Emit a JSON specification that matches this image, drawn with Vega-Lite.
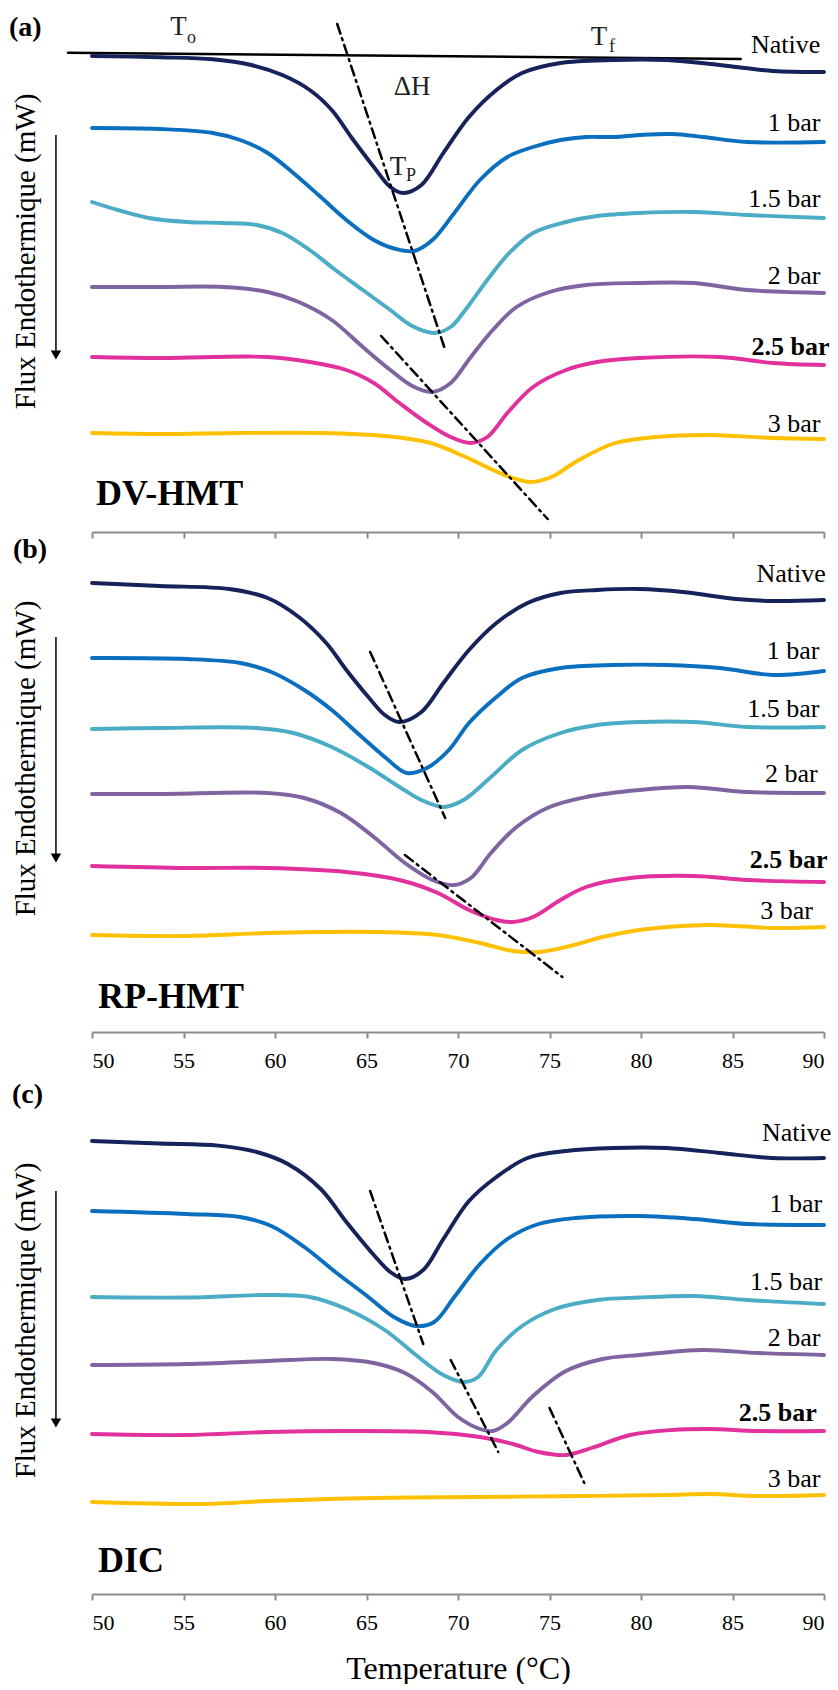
{
"$schema": "https://vega.github.io/schema/vega-lite/v6.json",
"padding": {"left": 8, "top": 0, "right": 0, "bottom": 0},
"background": "white",
"bounds": "flush",
"spacing": 10,
"config": {
 "view": {"stroke": null},
 "font": "Liberation Serif, Times New Roman, serif",
 "axis": {"grid": false, "domainColor": "#8c8c8c", "domainWidth": 2, "tickColor": "#8c8c8c", "tickWidth": 2, "tickSize": 6, "labelFont": "Liberation Serif, Times New Roman, serif", "labelFontSize": 22, "labelColor": "#000", "labelPadding": 12, "titleFont": "Liberation Serif, Times New Roman, serif", "titleFontWeight": "normal", "titleColor": "#000"},
 "line": {"strokeWidth": 3.9, "interpolate": "catmull-rom", "strokeCap": "round"},
 "text": {"font": "Liberation Serif, Times New Roman, serif", "color": "#000"}
},
"datasets": {
 "curves": [
  {"p":"a","s":"Native","t":50,"f":-0.56},{"p":"a","s":"Native","t":53.7,"f":-0.573},{"p":"a","s":"Native","t":56.6,"f":-0.593},{"p":"a","s":"Native","t":58.7,"f":-0.65},{"p":"a","s":"Native","t":60.4,"f":-0.75},{"p":"a","s":"Native","t":61.9,"f":-0.9},{"p":"a","s":"Native","t":63.1,"f":-1.1},{"p":"a","s":"Native","t":64.2,"f":-1.38},{"p":"a","s":"Native","t":65.4,"f":-1.67},{"p":"a","s":"Native","t":66.3,"f":-1.87},{"p":"a","s":"Native","t":67.0,"f":-1.93},{"p":"a","s":"Native","t":68.0,"f":-1.85},{"p":"a","s":"Native","t":69.2,"f":-1.53},{"p":"a","s":"Native","t":70.6,"f":-1.17},{"p":"a","s":"Native","t":72.1,"f":-0.9},{"p":"a","s":"Native","t":73.5,"f":-0.73},{"p":"a","s":"Native","t":75.6,"f":-0.63},{"p":"a","s":"Native","t":78.5,"f":-0.6},{"p":"a","s":"Native","t":81.4,"f":-0.6},{"p":"a","s":"Native","t":84.3,"f":-0.65},{"p":"a","s":"Native","t":87.2,"f":-0.71},{"p":"a","s":"Native","t":90,"f":-0.72},
  {"p":"a","s":"1 bar","t":50,"f":-1.28},{"p":"a","s":"1 bar","t":53.7,"f":-1.29},{"p":"a","s":"1 bar","t":56.6,"f":-1.33},{"p":"a","s":"1 bar","t":58.1,"f":-1.4},{"p":"a","s":"1 bar","t":59.6,"f":-1.53},{"p":"a","s":"1 bar","t":61.0,"f":-1.73},{"p":"a","s":"1 bar","t":62.5,"f":-1.97},{"p":"a","s":"1 bar","t":63.9,"f":-2.2},{"p":"a","s":"1 bar","t":65.4,"f":-2.4},{"p":"a","s":"1 bar","t":66.6,"f":-2.49},{"p":"a","s":"1 bar","t":67.6,"f":-2.51},{"p":"a","s":"1 bar","t":68.6,"f":-2.4},{"p":"a","s":"1 bar","t":69.8,"f":-2.13},{"p":"a","s":"1 bar","t":71.2,"f":-1.8},{"p":"a","s":"1 bar","t":72.7,"f":-1.57},{"p":"a","s":"1 bar","t":74.1,"f":-1.47},{"p":"a","s":"1 bar","t":75.6,"f":-1.4},{"p":"a","s":"1 bar","t":77.0,"f":-1.37},{"p":"a","s":"1 bar","t":78.5,"f":-1.37},{"p":"a","s":"1 bar","t":79.9,"f":-1.35},{"p":"a","s":"1 bar","t":81.7,"f":-1.34},{"p":"a","s":"1 bar","t":83.4,"f":-1.37},{"p":"a","s":"1 bar","t":85.8,"f":-1.42},{"p":"a","s":"1 bar","t":90,"f":-1.42},
  {"p":"a","s":"1.5 bar","t":50,"f":-2.02},{"p":"a","s":"1.5 bar","t":51.4,"f":-2.1},{"p":"a","s":"1.5 bar","t":53.1,"f":-2.18},{"p":"a","s":"1.5 bar","t":55.2,"f":-2.22},{"p":"a","s":"1.5 bar","t":57.2,"f":-2.23},{"p":"a","s":"1.5 bar","t":59.0,"f":-2.25},{"p":"a","s":"1.5 bar","t":60.4,"f":-2.33},{"p":"a","s":"1.5 bar","t":61.9,"f":-2.5},{"p":"a","s":"1.5 bar","t":63.3,"f":-2.7},{"p":"a","s":"1.5 bar","t":64.8,"f":-2.9},{"p":"a","s":"1.5 bar","t":66.3,"f":-3.1},{"p":"a","s":"1.5 bar","t":67.5,"f":-3.26},{"p":"a","s":"1.5 bar","t":68.7,"f":-3.33},{"p":"a","s":"1.5 bar","t":69.6,"f":-3.27},{"p":"a","s":"1.5 bar","t":70.4,"f":-3.1},{"p":"a","s":"1.5 bar","t":71.6,"f":-2.8},{"p":"a","s":"1.5 bar","t":72.8,"f":-2.53},{"p":"a","s":"1.5 bar","t":74.1,"f":-2.33},{"p":"a","s":"1.5 bar","t":75.9,"f":-2.22},{"p":"a","s":"1.5 bar","t":77.6,"f":-2.16},{"p":"a","s":"1.5 bar","t":79.9,"f":-2.13},{"p":"a","s":"1.5 bar","t":82.9,"f":-2.12},{"p":"a","s":"1.5 bar","t":85.8,"f":-2.15},{"p":"a","s":"1.5 bar","t":90,"f":-2.18},
  {"p":"a","s":"2 bar","t":50,"f":-2.87},{"p":"a","s":"2 bar","t":53.7,"f":-2.87},{"p":"a","s":"2 bar","t":57.2,"f":-2.87},{"p":"a","s":"2 bar","t":59.6,"f":-2.92},{"p":"a","s":"2 bar","t":61.3,"f":-3.02},{"p":"a","s":"2 bar","t":63.1,"f":-3.2},{"p":"a","s":"2 bar","t":64.8,"f":-3.47},{"p":"a","s":"2 bar","t":66.3,"f":-3.7},{"p":"a","s":"2 bar","t":67.5,"f":-3.86},{"p":"a","s":"2 bar","t":68.6,"f":-3.92},{"p":"a","s":"2 bar","t":69.6,"f":-3.83},{"p":"a","s":"2 bar","t":70.7,"f":-3.57},{"p":"a","s":"2 bar","t":71.9,"f":-3.3},{"p":"a","s":"2 bar","t":73.2,"f":-3.07},{"p":"a","s":"2 bar","t":75.0,"f":-2.92},{"p":"a","s":"2 bar","t":77.0,"f":-2.85},{"p":"a","s":"2 bar","t":79.9,"f":-2.83},{"p":"a","s":"2 bar","t":82.9,"f":-2.83},{"p":"a","s":"2 bar","t":85.8,"f":-2.9},{"p":"a","s":"2 bar","t":90,"f":-2.93},
  {"p":"a","s":"2.5 bar","t":50,"f":-3.57},{"p":"a","s":"2.5 bar","t":53.7,"f":-3.58},{"p":"a","s":"2.5 bar","t":56.6,"f":-3.57},{"p":"a","s":"2.5 bar","t":59.6,"f":-3.57},{"p":"a","s":"2.5 bar","t":61.9,"f":-3.62},{"p":"a","s":"2.5 bar","t":63.9,"f":-3.7},{"p":"a","s":"2.5 bar","t":65.4,"f":-3.83},{"p":"a","s":"2.5 bar","t":66.8,"f":-4.03},{"p":"a","s":"2.5 bar","t":68.3,"f":-4.23},{"p":"a","s":"2.5 bar","t":69.6,"f":-4.37},{"p":"a","s":"2.5 bar","t":70.7,"f":-4.43},{"p":"a","s":"2.5 bar","t":71.6,"f":-4.37},{"p":"a","s":"2.5 bar","t":72.7,"f":-4.13},{"p":"a","s":"2.5 bar","t":74.1,"f":-3.87},{"p":"a","s":"2.5 bar","t":75.9,"f":-3.7},{"p":"a","s":"2.5 bar","t":77.6,"f":-3.62},{"p":"a","s":"2.5 bar","t":79.9,"f":-3.58},{"p":"a","s":"2.5 bar","t":84.3,"f":-3.57},{"p":"a","s":"2.5 bar","t":87.2,"f":-3.63},{"p":"a","s":"2.5 bar","t":90,"f":-3.65},
  {"p":"a","s":"3 bar","t":50,"f":-4.33},{"p":"a","s":"3 bar","t":53.7,"f":-4.34},{"p":"a","s":"3 bar","t":58.1,"f":-4.33},{"p":"a","s":"3 bar","t":62.5,"f":-4.33},{"p":"a","s":"3 bar","t":66.0,"f":-4.36},{"p":"a","s":"3 bar","t":68.5,"f":-4.43},{"p":"a","s":"3 bar","t":70.3,"f":-4.56},{"p":"a","s":"3 bar","t":71.8,"f":-4.69},{"p":"a","s":"3 bar","t":73.0,"f":-4.78},{"p":"a","s":"3 bar","t":74.0,"f":-4.82},{"p":"a","s":"3 bar","t":75.1,"f":-4.77},{"p":"a","s":"3 bar","t":76.6,"f":-4.6},{"p":"a","s":"3 bar","t":78.6,"f":-4.43},{"p":"a","s":"3 bar","t":80.8,"f":-4.37},{"p":"a","s":"3 bar","t":83.7,"f":-4.35},{"p":"a","s":"3 bar","t":87.2,"f":-4.38},{"p":"a","s":"3 bar","t":90,"f":-4.39},

  {"p":"b","s":"Native","t":50,"f":-0.43},{"p":"b","s":"Native","t":53.7,"f":-0.46},{"p":"b","s":"Native","t":57.5,"f":-0.49},{"p":"b","s":"Native","t":59.6,"f":-0.58},{"p":"b","s":"Native","t":61.3,"f":-0.77},{"p":"b","s":"Native","t":62.8,"f":-1.03},{"p":"b","s":"Native","t":63.9,"f":-1.3},{"p":"b","s":"Native","t":65.1,"f":-1.57},{"p":"b","s":"Native","t":66.0,"f":-1.75},{"p":"b","s":"Native","t":66.8,"f":-1.82},{"p":"b","s":"Native","t":68.0,"f":-1.72},{"p":"b","s":"Native","t":69.2,"f":-1.43},{"p":"b","s":"Native","t":70.6,"f":-1.1},{"p":"b","s":"Native","t":72.1,"f":-0.83},{"p":"b","s":"Native","t":73.8,"f":-0.63},{"p":"b","s":"Native","t":75.6,"f":-0.53},{"p":"b","s":"Native","t":77.6,"f":-0.5},{"p":"b","s":"Native","t":79.9,"f":-0.49},{"p":"b","s":"Native","t":82.3,"f":-0.52},{"p":"b","s":"Native","t":85.2,"f":-0.59},{"p":"b","s":"Native","t":87.2,"f":-0.61},{"p":"b","s":"Native","t":90,"f":-0.6},
  {"p":"b","s":"1 bar","t":50,"f":-1.18},{"p":"b","s":"1 bar","t":55.2,"f":-1.19},{"p":"b","s":"1 bar","t":58.1,"f":-1.23},{"p":"b","s":"1 bar","t":59.8,"f":-1.32},{"p":"b","s":"1 bar","t":61.6,"f":-1.5},{"p":"b","s":"1 bar","t":63.1,"f":-1.7},{"p":"b","s":"1 bar","t":64.5,"f":-1.93},{"p":"b","s":"1 bar","t":66.0,"f":-2.17},{"p":"b","s":"1 bar","t":67.2,"f":-2.33},{"p":"b","s":"1 bar","t":68.3,"f":-2.28},{"p":"b","s":"1 bar","t":69.5,"f":-2.1},{"p":"b","s":"1 bar","t":70.6,"f":-1.83},{"p":"b","s":"1 bar","t":72.1,"f":-1.57},{"p":"b","s":"1 bar","t":73.5,"f":-1.38},{"p":"b","s":"1 bar","t":75.6,"f":-1.28},{"p":"b","s":"1 bar","t":78.5,"f":-1.25},{"p":"b","s":"1 bar","t":81.4,"f":-1.25},{"p":"b","s":"1 bar","t":84.3,"f":-1.28},{"p":"b","s":"1 bar","t":87.2,"f":-1.35},{"p":"b","s":"1 bar","t":90,"f":-1.31},
  {"p":"b","s":"1.5 bar","t":50,"f":-1.89},{"p":"b","s":"1.5 bar","t":53.7,"f":-1.88},{"p":"b","s":"1.5 bar","t":59.0,"f":-1.88},{"p":"b","s":"1.5 bar","t":61.0,"f":-1.93},{"p":"b","s":"1.5 bar","t":63.1,"f":-2.07},{"p":"b","s":"1.5 bar","t":65.1,"f":-2.27},{"p":"b","s":"1.5 bar","t":66.8,"f":-2.47},{"p":"b","s":"1.5 bar","t":68.0,"f":-2.6},{"p":"b","s":"1.5 bar","t":69.2,"f":-2.67},{"p":"b","s":"1.5 bar","t":70.3,"f":-2.6},{"p":"b","s":"1.5 bar","t":71.8,"f":-2.37},{"p":"b","s":"1.5 bar","t":73.5,"f":-2.1},{"p":"b","s":"1.5 bar","t":75.6,"f":-1.93},{"p":"b","s":"1.5 bar","t":77.6,"f":-1.85},{"p":"b","s":"1.5 bar","t":79.9,"f":-1.82},{"p":"b","s":"1.5 bar","t":82.9,"f":-1.82},{"p":"b","s":"1.5 bar","t":85.8,"f":-1.87},{"p":"b","s":"1.5 bar","t":90,"f":-1.87},
  {"p":"b","s":"2 bar","t":50,"f":-2.54},{"p":"b","s":"2 bar","t":53.7,"f":-2.54},{"p":"b","s":"2 bar","t":59.6,"f":-2.53},{"p":"b","s":"2 bar","t":61.6,"f":-2.58},{"p":"b","s":"2 bar","t":63.6,"f":-2.73},{"p":"b","s":"2 bar","t":65.4,"f":-2.97},{"p":"b","s":"2 bar","t":67.1,"f":-3.23},{"p":"b","s":"2 bar","t":68.6,"f":-3.4},{"p":"b","s":"2 bar","t":69.8,"f":-3.45},{"p":"b","s":"2 bar","t":70.7,"f":-3.38},{"p":"b","s":"2 bar","t":71.8,"f":-3.13},{"p":"b","s":"2 bar","t":73.2,"f":-2.87},{"p":"b","s":"2 bar","t":75.0,"f":-2.67},{"p":"b","s":"2 bar","t":77.0,"f":-2.57},{"p":"b","s":"2 bar","t":79.9,"f":-2.5},{"p":"b","s":"2 bar","t":82.6,"f":-2.47},{"p":"b","s":"2 bar","t":85.8,"f":-2.52},{"p":"b","s":"2 bar","t":90,"f":-2.53},
  {"p":"b","s":"2.5 bar","t":50,"f":-3.26},{"p":"b","s":"2.5 bar","t":55.2,"f":-3.28},{"p":"b","s":"2.5 bar","t":59.6,"f":-3.28},{"p":"b","s":"2.5 bar","t":63.9,"f":-3.32},{"p":"b","s":"2.5 bar","t":66.8,"f":-3.4},{"p":"b","s":"2.5 bar","t":68.9,"f":-3.53},{"p":"b","s":"2.5 bar","t":70.6,"f":-3.7},{"p":"b","s":"2.5 bar","t":72.1,"f":-3.8},{"p":"b","s":"2.5 bar","t":73.0,"f":-3.82},{"p":"b","s":"2.5 bar","t":74.1,"f":-3.77},{"p":"b","s":"2.5 bar","t":75.6,"f":-3.6},{"p":"b","s":"2.5 bar","t":77.0,"f":-3.47},{"p":"b","s":"2.5 bar","t":79.4,"f":-3.38},{"p":"b","s":"2.5 bar","t":82.9,"f":-3.36},{"p":"b","s":"2.5 bar","t":85.8,"f":-3.4},{"p":"b","s":"2.5 bar","t":90,"f":-3.42},
  {"p":"b","s":"3 bar","t":50,"f":-3.95},{"p":"b","s":"3 bar","t":55.2,"f":-3.96},{"p":"b","s":"3 bar","t":59.6,"f":-3.93},{"p":"b","s":"3 bar","t":65.4,"f":-3.92},{"p":"b","s":"3 bar","t":68.9,"f":-3.95},{"p":"b","s":"3 bar","t":71.2,"f":-4.03},{"p":"b","s":"3 bar","t":73.0,"f":-4.11},{"p":"b","s":"3 bar","t":74.4,"f":-4.12},{"p":"b","s":"3 bar","t":75.9,"f":-4.07},{"p":"b","s":"3 bar","t":77.9,"f":-3.97},{"p":"b","s":"3 bar","t":79.9,"f":-3.9},{"p":"b","s":"3 bar","t":83.7,"f":-3.85},{"p":"b","s":"3 bar","t":87.2,"f":-3.88},{"p":"b","s":"3 bar","t":90,"f":-3.87},

  {"p":"c","s":"Native","t":50,"f":-0.96},{"p":"c","s":"Native","t":53.7,"f":-0.985},{"p":"c","s":"Native","t":56.9,"f":-1.006},{"p":"c","s":"Native","t":59.0,"f":-1.07},{"p":"c","s":"Native","t":60.7,"f":-1.19},{"p":"c","s":"Native","t":62.5,"f":-1.44},{"p":"c","s":"Native","t":63.9,"f":-1.77},{"p":"c","s":"Native","t":65.4,"f":-2.1},{"p":"c","s":"Native","t":66.3,"f":-2.27},{"p":"c","s":"Native","t":67.1,"f":-2.34},{"p":"c","s":"Native","t":68.1,"f":-2.25},{"p":"c","s":"Native","t":69.2,"f":-1.94},{"p":"c","s":"Native","t":70.6,"f":-1.56},{"p":"c","s":"Native","t":72.1,"f":-1.32},{"p":"c","s":"Native","t":73.8,"f":-1.13},{"p":"c","s":"Native","t":75.9,"f":-1.06},{"p":"c","s":"Native","t":78.5,"f":-1.03},{"p":"c","s":"Native","t":81.4,"f":-1.03},{"p":"c","s":"Native","t":84.3,"f":-1.08},{"p":"c","s":"Native","t":87.2,"f":-1.13},{"p":"c","s":"Native","t":90,"f":-1.13},
  {"p":"c","s":"1 bar","t":50,"f":-1.66},{"p":"c","s":"1 bar","t":55.2,"f":-1.69},{"p":"c","s":"1 bar","t":58.1,"f":-1.72},{"p":"c","s":"1 bar","t":59.8,"f":-1.81},{"p":"c","s":"1 bar","t":61.6,"f":-2.02},{"p":"c","s":"1 bar","t":63.3,"f":-2.27},{"p":"c","s":"1 bar","t":65.1,"f":-2.52},{"p":"c","s":"1 bar","t":66.5,"f":-2.72},{"p":"c","s":"1 bar","t":67.7,"f":-2.81},{"p":"c","s":"1 bar","t":68.7,"f":-2.77},{"p":"c","s":"1 bar","t":69.8,"f":-2.52},{"p":"c","s":"1 bar","t":71.2,"f":-2.19},{"p":"c","s":"1 bar","t":72.7,"f":-1.94},{"p":"c","s":"1 bar","t":74.4,"f":-1.79},{"p":"c","s":"1 bar","t":76.4,"f":-1.73},{"p":"c","s":"1 bar","t":79.9,"f":-1.71},{"p":"c","s":"1 bar","t":82.9,"f":-1.74},{"p":"c","s":"1 bar","t":85.8,"f":-1.79},{"p":"c","s":"1 bar","t":90,"f":-1.8},
  {"p":"c","s":"1.5 bar","t":50,"f":-2.52},{"p":"c","s":"1.5 bar","t":55.2,"f":-2.525},{"p":"c","s":"1.5 bar","t":59.6,"f":-2.5},{"p":"c","s":"1.5 bar","t":61.9,"f":-2.52},{"p":"c","s":"1.5 bar","t":63.9,"f":-2.64},{"p":"c","s":"1.5 bar","t":66.0,"f":-2.85},{"p":"c","s":"1.5 bar","t":67.7,"f":-3.1},{"p":"c","s":"1.5 bar","t":69.2,"f":-3.3},{"p":"c","s":"1.5 bar","t":70.3,"f":-3.37},{"p":"c","s":"1.5 bar","t":71.1,"f":-3.32},{"p":"c","s":"1.5 bar","t":72.1,"f":-3.05},{"p":"c","s":"1.5 bar","t":73.5,"f":-2.81},{"p":"c","s":"1.5 bar","t":75.3,"f":-2.64},{"p":"c","s":"1.5 bar","t":77.6,"f":-2.55},{"p":"c","s":"1.5 bar","t":79.9,"f":-2.525},{"p":"c","s":"1.5 bar","t":82.9,"f":-2.51},{"p":"c","s":"1.5 bar","t":85.8,"f":-2.55},{"p":"c","s":"1.5 bar","t":90,"f":-2.59},
  {"p":"c","s":"2 bar","t":50,"f":-3.2},{"p":"c","s":"2 bar","t":55.2,"f":-3.19},{"p":"c","s":"2 bar","t":59.6,"f":-3.16},{"p":"c","s":"2 bar","t":63.1,"f":-3.14},{"p":"c","s":"2 bar","t":65.4,"f":-3.18},{"p":"c","s":"2 bar","t":67.1,"f":-3.28},{"p":"c","s":"2 bar","t":68.6,"f":-3.47},{"p":"c","s":"2 bar","t":70.0,"f":-3.72},{"p":"c","s":"2 bar","t":71.2,"f":-3.84},{"p":"c","s":"2 bar","t":71.9,"f":-3.86},{"p":"c","s":"2 bar","t":72.7,"f":-3.78},{"p":"c","s":"2 bar","t":74.1,"f":-3.51},{"p":"c","s":"2 bar","t":75.9,"f":-3.26},{"p":"c","s":"2 bar","t":77.9,"f":-3.14},{"p":"c","s":"2 bar","t":79.9,"f":-3.1},{"p":"c","s":"2 bar","t":83.4,"f":-3.05},{"p":"c","s":"2 bar","t":86.4,"f":-3.08},{"p":"c","s":"2 bar","t":90,"f":-3.1},
  {"p":"c","s":"2.5 bar","t":50,"f":-3.89},{"p":"c","s":"2.5 bar","t":55.2,"f":-3.9},{"p":"c","s":"2.5 bar","t":59.6,"f":-3.87},{"p":"c","s":"2.5 bar","t":63.9,"f":-3.86},{"p":"c","s":"2.5 bar","t":68.3,"f":-3.87},{"p":"c","s":"2.5 bar","t":71.2,"f":-3.92},{"p":"c","s":"2.5 bar","t":73.0,"f":-3.99},{"p":"c","s":"2.5 bar","t":74.4,"f":-4.07},{"p":"c","s":"2.5 bar","t":75.9,"f":-4.1},{"p":"c","s":"2.5 bar","t":77.3,"f":-4.03},{"p":"c","s":"2.5 bar","t":79.4,"f":-3.9},{"p":"c","s":"2.5 bar","t":81.7,"f":-3.85},{"p":"c","s":"2.5 bar","t":83.7,"f":-3.84},{"p":"c","s":"2.5 bar","t":86.4,"f":-3.86},{"p":"c","s":"2.5 bar","t":90,"f":-3.86},
  {"p":"c","s":"3 bar","t":50,"f":-4.57},{"p":"c","s":"3 bar","t":56.1,"f":-4.59},{"p":"c","s":"3 bar","t":59.6,"f":-4.56},{"p":"c","s":"3 bar","t":65.4,"f":-4.53},{"p":"c","s":"3 bar","t":71.2,"f":-4.52},{"p":"c","s":"3 bar","t":77.0,"f":-4.51},{"p":"c","s":"3 bar","t":81.4,"f":-4.5},{"p":"c","s":"3 bar","t":83.7,"f":-4.49},{"p":"c","s":"3 bar","t":86.4,"f":-4.51},{"p":"c","s":"3 bar","t":90,"f":-4.5}
 ],
 "trend": [
  {"p":"a","id":1,"t":63.4,"f":-0.24},{"p":"a","id":1,"t":69.3,"f":-3.5},
  {"p":"a","id":2,"t":65.8,"f":-3.36},{"p":"a","id":2,"t":74.9,"f":-5.19},
  {"p":"b","id":1,"t":65.2,"f":-1.12},{"p":"b","id":1,"t":69.3,"f":-2.78},
  {"p":"b","id":2,"t":67.1,"f":-3.15},{"p":"b","id":2,"t":75.7,"f":-4.37},
  {"p":"c","id":1,"t":65.2,"f":-1.46},{"p":"c","id":1,"t":68.1,"f":-2.99},
  {"p":"c","id":2,"t":69.6,"f":-3.15},{"p":"c","id":2,"t":72.2,"f":-4.07},
  {"p":"c","id":3,"t":75.0,"f":-3.63},{"p":"c","id":3,"t":76.9,"f":-4.38}
 ],
 "base": [{"p":"a","t":48.69,"f":-0.527},{"p":"a","t":85.45,"f":-0.59}],
 "arrows": [
  {"p":"a","t":48.03,"f":-1.35,"f2":-3.55},
  {"p":"b","t":48.03,"f":-0.97,"f2":-3.18},
  {"p":"c","t":48.03,"f":-1.46,"f2":-3.78}
 ],
 "labels": [
  {"p":"a","s":"Native","t":89.8,"f":-0.53},{"p":"a","s":"1 bar","t":89.8,"f":-1.31},{"p":"a","s":"1.5 bar","t":89.8,"f":-2.07},{"p":"a","s":"2 bar","t":89.8,"f":-2.84},{"p":"a","s":"2.5 bar","t":90.3,"f":-3.55},{"p":"a","s":"3 bar","t":89.8,"f":-4.32},
  {"p":"b","s":"Native","t":90.1,"f":-0.42},{"p":"b","s":"1 bar","t":89.75,"f":-1.19},{"p":"b","s":"1.5 bar","t":89.75,"f":-1.77},{"p":"b","s":"2 bar","t":89.65,"f":-2.42},{"p":"b","s":"2.5 bar","t":90.2,"f":-3.28},{"p":"b","s":"3 bar","t":89.4,"f":-3.79},
  {"p":"c","s":"Native","t":90.4,"f":-0.96},{"p":"c","s":"1 bar","t":89.9,"f":-1.67},{"p":"c","s":"1.5 bar","t":89.9,"f":-2.45},{"p":"c","s":"2 bar","t":89.8,"f":-3.01},{"p":"c","s":"2.5 bar","t":89.6,"f":-3.76},{"p":"c","s":"3 bar","t":89.8,"f":-4.42}
 ],
 "tags": [
  {"p":"a","txt":"(a)","t":45.46,"f":-0.36},
  {"p":"b","txt":"(b)","t":45.68,"f":-0.18},
  {"p":"c","txt":"(c)","t":45.63,"f":-0.58}
 ],
 "names": [
  {"p":"a","txt":"DV-HMT","t":50.22,"f":-5.05},
  {"p":"b","txt":"RP-HMT","t":50.33,"f":-4.68},
  {"p":"c","txt":"DIC","t":50.33,"f":-5.27}
 ],
 "sym": [
  {"p":"a","txt":"T","t":54.73,"f":-0.35},
  {"p":"a","txt":"T","t":77.7,"f":-0.45},
  {"p":"a","txt":"ΔH","t":67.49,"f":-0.95},
  {"p":"a","txt":"T","t":66.72,"f":-1.75}
 ],
 "sub": [
  {"p":"a","txt":"o","t":55.19,"f":-0.43},
  {"p":"a","txt":"f","t":78.25,"f":-0.52},
  {"p":"a","txt":"P","t":67.16,"f":-1.81}
 ]
},
"vconcat": [
 {
  "width": 732, "height": 532,
  "encoding": {
   "x": {"field":"t","type":"quantitative","scale":{"domain":[50,90],"nice":false,"zero":false},"axis":{"values":[50,55,60,65,70,75,80,85,90],"labels":false,"title":null}},
   "y": {"field":"f","type":"quantitative","scale":{"domain":[-5.32,0],"nice":false,"zero":false},"axis":{"title":"Flux Endothermique (mW)","labels":false,"ticks":false,"domain":false,"titleFontSize":29,"titleAngle":-90,"titleX":-58,"titleY":251,"titleBaseline":"alphabetic","titleAlign":"center","minExtent":0,"maxExtent":0}}
  },
  "layer": [
   {"data":{"name":"base"},"transform":[{"filter":"datum.p==='a'"}],"mark":{"type":"line","color":"#000","strokeWidth":2.5,"interpolate":"linear"}},
   {"data":{"name":"curves"},"transform":[{"filter":"datum.p==='a'"}],"mark":{"type":"line"},
    "encoding":{"color":{"field":"s","type":"nominal","legend":null,"scale":{"domain":["Native","1 bar","1.5 bar","2 bar","2.5 bar","3 bar"],"range":["#16225a","#0b6fc0","#4bacc6","#8064a2","#e2319d","#ffc000"]}}}},
   {"data":{"name":"trend"},"transform":[{"filter":"datum.p==='a'"}],"mark":{"type":"line","color":"#000","strokeWidth":2.5,"interpolate":"linear","strokeDash":[10,5,2,5]},"encoding":{"detail":{"field":"id"}}},
   {"data":{"name":"arrows"},"transform":[{"filter":"datum.p==='a'"}],"mark":{"type":"rule","color":"#000","strokeWidth":1.5},"encoding":{"y2":{"field":"f2"}}},
   {"data":{"name":"arrows"},"transform":[{"filter":"datum.p==='a'"}],"mark":{"type":"point","shape":"triangle-down","filled":true,"color":"#000","size":110,"opacity":1},"encoding":{"y":{"field":"f2","type":"quantitative"}}},
   {"data":{"name":"labels"},"transform":[{"filter":"datum.p==='a' && datum.s!=='2.5 bar'"}],"mark":{"type":"text","align":"right","baseline":"alphabetic","fontSize":26},"encoding":{"text":{"field":"s"}}},
   {"data":{"name":"labels"},"transform":[{"filter":"datum.p==='a' && datum.s==='2.5 bar'"}],"mark":{"type":"text","align":"right","baseline":"alphabetic","fontSize":26,"fontWeight":"bold"},"encoding":{"text":{"field":"s"}}},
   {"data":{"name":"tags"},"transform":[{"filter":"datum.p==='a'"}],"mark":{"type":"text","align":"left","baseline":"alphabetic","fontSize":28,"fontWeight":"bold"},"encoding":{"text":{"field":"txt"}}},
   {"data":{"name":"names"},"transform":[{"filter":"datum.p==='a'"}],"mark":{"type":"text","align":"left","baseline":"alphabetic","fontSize":36,"fontWeight":"bold"},"encoding":{"text":{"field":"txt"}}},
   {"data":{"name":"sym"},"transform":[{"filter":"datum.p==='a'"}],"mark":{"type":"text","align":"center","baseline":"alphabetic","fontSize":27,"color":"#222"},"encoding":{"text":{"field":"txt"}}},
   {"data":{"name":"sub"},"transform":[{"filter":"datum.p==='a'"}],"mark":{"type":"text","align":"left","baseline":"alphabetic","fontSize":18,"color":"#222"},"encoding":{"text":{"field":"txt"}}}
  ]
 },
 {
  "width": 732, "height": 490,
  "encoding": {
   "x": {"field":"t","type":"quantitative","scale":{"domain":[50,90],"nice":false,"zero":false},"axis":{"values":[50,55,60,65,70,75,80,85,90],"title":null}},
   "y": {"field":"f","type":"quantitative","scale":{"domain":[-4.92,-0.02],"nice":false,"zero":false},"axis":{"title":"Flux Endothermique (mW)","labels":false,"ticks":false,"domain":false,"titleFontSize":29,"titleAngle":-90,"titleX":-58,"titleY":216,"titleBaseline":"alphabetic","titleAlign":"center","minExtent":0,"maxExtent":0}}
  },
  "layer": [
   {"data":{"name":"curves"},"transform":[{"filter":"datum.p==='b'"}],"mark":{"type":"line"},
    "encoding":{"color":{"field":"s","type":"nominal","legend":null,"scale":{"domain":["Native","1 bar","1.5 bar","2 bar","2.5 bar","3 bar"],"range":["#16225a","#0b6fc0","#4bacc6","#8064a2","#e2319d","#ffc000"]}}}},
   {"data":{"name":"trend"},"transform":[{"filter":"datum.p==='b'"}],"mark":{"type":"line","color":"#000","strokeWidth":2.5,"interpolate":"linear","strokeDash":[10,5,2,5]},"encoding":{"detail":{"field":"id"}}},
   {"data":{"name":"arrows"},"transform":[{"filter":"datum.p==='b'"}],"mark":{"type":"rule","color":"#000","strokeWidth":1.5},"encoding":{"y2":{"field":"f2"}}},
   {"data":{"name":"arrows"},"transform":[{"filter":"datum.p==='b'"}],"mark":{"type":"point","shape":"triangle-down","filled":true,"color":"#000","size":110,"opacity":1},"encoding":{"y":{"field":"f2","type":"quantitative"}}},
   {"data":{"name":"labels"},"transform":[{"filter":"datum.p==='b' && datum.s!=='2.5 bar'"}],"mark":{"type":"text","align":"right","baseline":"alphabetic","fontSize":26},"encoding":{"text":{"field":"s"}}},
   {"data":{"name":"labels"},"transform":[{"filter":"datum.p==='b' && datum.s==='2.5 bar'"}],"mark":{"type":"text","align":"right","baseline":"alphabetic","fontSize":26,"fontWeight":"bold"},"encoding":{"text":{"field":"s"}}},
   {"data":{"name":"tags"},"transform":[{"filter":"datum.p==='b'"}],"mark":{"type":"text","align":"left","baseline":"alphabetic","fontSize":28,"fontWeight":"bold"},"encoding":{"text":{"field":"txt"}}},
   {"data":{"name":"names"},"transform":[{"filter":"datum.p==='b'"}],"mark":{"type":"text","align":"left","baseline":"alphabetic","fontSize":36,"fontWeight":"bold"},"encoding":{"text":{"field":"txt"}}}
  ]
 },
 {
  "width": 732, "height": 552,
  "encoding": {
   "x": {"field":"t","type":"quantitative","scale":{"domain":[50,90],"nice":false,"zero":false},"axis":{"values":[50,55,60,65,70,75,80,85,90],"title":"Temperature (°C)","titleFontSize":32,"titleY":84,"titleBaseline":"alphabetic"}},
   "y": {"field":"f","type":"quantitative","scale":{"domain":[-5.49,0.03],"nice":false,"zero":false},"axis":{"title":"Flux Endothermique (mW)","labels":false,"ticks":false,"domain":false,"titleFontSize":29,"titleAngle":-90,"titleX":-58,"titleY":278,"titleBaseline":"alphabetic","titleAlign":"center","minExtent":0,"maxExtent":0}}
  },
  "layer": [
   {"data":{"name":"curves"},"transform":[{"filter":"datum.p==='c'"}],"mark":{"type":"line"},
    "encoding":{"color":{"field":"s","type":"nominal","legend":null,"scale":{"domain":["Native","1 bar","1.5 bar","2 bar","2.5 bar","3 bar"],"range":["#16225a","#0b6fc0","#4bacc6","#8064a2","#e2319d","#ffc000"]}}}},
   {"data":{"name":"trend"},"transform":[{"filter":"datum.p==='c'"}],"mark":{"type":"line","color":"#000","strokeWidth":2.5,"interpolate":"linear","strokeDash":[10,5,2,5]},"encoding":{"detail":{"field":"id"}}},
   {"data":{"name":"arrows"},"transform":[{"filter":"datum.p==='c'"}],"mark":{"type":"rule","color":"#000","strokeWidth":1.5},"encoding":{"y2":{"field":"f2"}}},
   {"data":{"name":"arrows"},"transform":[{"filter":"datum.p==='c'"}],"mark":{"type":"point","shape":"triangle-down","filled":true,"color":"#000","size":110,"opacity":1},"encoding":{"y":{"field":"f2","type":"quantitative"}}},
   {"data":{"name":"labels"},"transform":[{"filter":"datum.p==='c' && datum.s!=='2.5 bar'"}],"mark":{"type":"text","align":"right","baseline":"alphabetic","fontSize":26},"encoding":{"text":{"field":"s"}}},
   {"data":{"name":"labels"},"transform":[{"filter":"datum.p==='c' && datum.s==='2.5 bar'"}],"mark":{"type":"text","align":"right","baseline":"alphabetic","fontSize":26,"fontWeight":"bold"},"encoding":{"text":{"field":"s"}}},
   {"data":{"name":"tags"},"transform":[{"filter":"datum.p==='c'"}],"mark":{"type":"text","align":"left","baseline":"alphabetic","fontSize":28,"fontWeight":"bold"},"encoding":{"text":{"field":"txt"}}},
   {"data":{"name":"names"},"transform":[{"filter":"datum.p==='c'"}],"mark":{"type":"text","align":"left","baseline":"alphabetic","fontSize":36,"fontWeight":"bold"},"encoding":{"text":{"field":"txt"}}}
  ]
 }
]
}
